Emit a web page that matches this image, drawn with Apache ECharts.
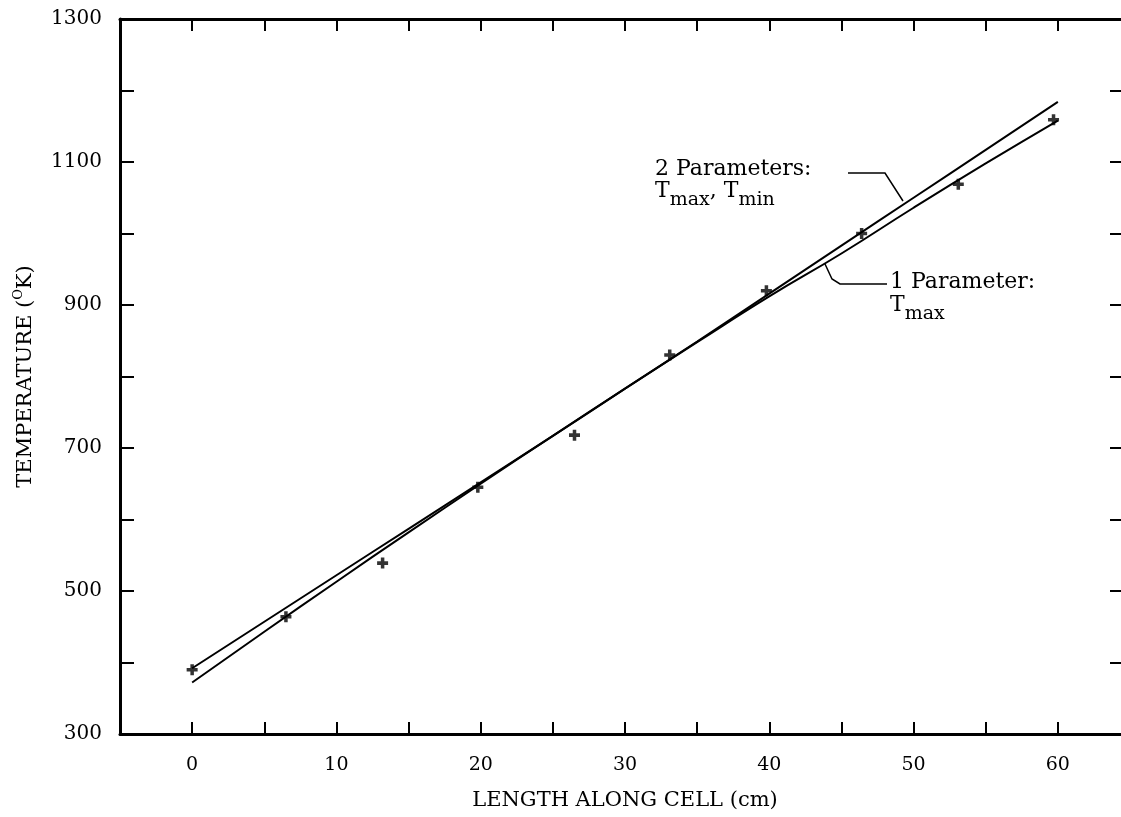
<!DOCTYPE html>
<html>
<head>
<meta charset="utf-8">
<script src="https://cdn.jsdelivr.net/npm/echarts@6/dist/echarts.min.js"></script>
<style>
  html, body { margin: 0; padding: 0; background: #fff; }
  #main { width: 1121px; height: 817px; }
</style>
</head>
<body>
<div id="main"></div>
<script>
// measured temperatures (+ marks)
const pointX = [0, 6.5, 13.2, 19.8, 26.5, 33.1, 39.8, 46.4, 53.1, 59.7]
const pointT = [390, 464, 539, 645, 718, 830, 920, 1000, 1069, 1159]

const curveX = [0, 5, 10, 15, 20, 25, 30, 35, 40, 45, 50, 55, 60]
const twoParamT = [392, 457, 522, 587, 652, 717, 783, 849, 916, 983, 1050, 1117, 1184]
const oneParamT = [372, 443, 513, 582, 650, 717, 783, 848, 912, 972, 1036, 1098, 1158]

// axis ranges / labels
const xMin = -5, xMax = 65, xStep = 5
const xLabels = [0, 10, 20, 30, 40, 50, 60]
const yMin = 300, yMax = 1300, yStep = 100
const yLabels = [300, 500, 700, 900, 1100, 1300]

const FONT = 'DejaVu Serif'
const axisLineStyle = { color: '#000', width: 3 }

const twoParamData = curveX.map((x, i) => [x, twoParamT[i]])
const oneParamData = curveX.map((x, i) => [x, oneParamT[i]])
const pointData = pointX.map((x, i) => [x, pointT[i]])

const plus = 'path://M3.4,0H6.6V3.4H10V6.6H6.6V10H3.4V6.6H0V3.4H3.4Z'

let option = {
  backgroundColor: '#fff',
  animation: false,
  grid: {
    left: 120,
    right: -9,
    top: 19,
    bottom: 83,
    outerBoundsMode: 'none',
    containLabel: false
  },
  xAxis: [
    {
      type: 'value',
      min: xMin,
      max: xMax,
      interval: xStep,
      name: 'LENGTH ALONG CELL (cm)',
      nameLocation: 'middle',
      nameGap: 56,
      nameTextStyle: { fontFamily: FONT, fontSize: 21, color: '#000' },
      axisLine: { onZero: false, lineStyle: axisLineStyle },
      axisTick: { inside: true, length: 12, lineStyle: { color: '#000', width: 2 } },
      axisLabel: {
        margin: 22,
        fontFamily: FONT,
        fontSize: 19,
        color: '#000',
        formatter: (v) => (xLabels.includes(v) ? String(v) : '')
      },
      splitLine: { show: false }
    },
    {
      type: 'value',
      position: 'top',
      min: xMin,
      max: xMax,
      interval: xStep,
      axisLine: { onZero: false, lineStyle: axisLineStyle },
      axisTick: { inside: true, length: 12, lineStyle: { color: '#000', width: 2 } },
      axisLabel: { show: false },
      splitLine: { show: false }
    }
  ],
  yAxis: [
    {
      type: 'value',
      min: yMin,
      max: yMax,
      interval: yStep,
      name: '{n|TEMPERATURE (}{s|O}{n|K)}',
      nameLocation: 'middle',
      nameRotate: 90,
      nameGap: 84,
      nameTextStyle: {
        fontFamily: FONT,
        fontSize: 21,
        color: '#000',
        rich: {
          n: { fontFamily: FONT, fontSize: 21, color: '#000', lineHeight: 24, verticalAlign: 'bottom' },
          s: { fontFamily: FONT, fontSize: 13, color: '#000', lineHeight: 13, verticalAlign: 'top' }
        }
      },
      axisLine: { onZero: false, lineStyle: axisLineStyle },
      axisTick: { inside: true, length: 14, lineStyle: { color: '#000', width: 2 } },
      axisLabel: {
        margin: 18,
        fontFamily: FONT,
        fontSize: 20,
        color: '#000',
        formatter: (v) => (yLabels.includes(v) ? String(v) : '')
      },
      splitLine: { show: false }
    },
    {
      type: 'value',
      position: 'right',
      min: yMin,
      max: yMax,
      interval: yStep,
      axisLine: { onZero: false, lineStyle: axisLineStyle },
      axisTick: { inside: true, length: 20, lineStyle: { color: '#000', width: 2 } },
      axisLabel: { show: false },
      splitLine: { show: false }
    }
  ],
  series: [
    {
      name: '2 Parameters',
      type: 'line',
      data: twoParamData,
      smooth: true,
      showSymbol: false,
      lineStyle: { color: '#000', width: 2 }
    },
    {
      name: '1 Parameter',
      type: 'line',
      data: oneParamData,
      smooth: true,
      showSymbol: false,
      lineStyle: { color: '#000', width: 2 }
    },
    {
      name: 'measured',
      type: 'scatter',
      data: pointData,
      symbol: plus,
      symbolSize: 11,
      itemStyle: { color: '#000' },
      z: 5
    }
  ],
  graphic: [
    // 2 parameters label + leader
    {
      type: 'text',
      style: { x: 655, y: 169, text: '2 Parameters:', font: '22px "DejaVu Serif"', fill: '#000', verticalAlign: 'middle' }
    },
    {
      type: 'text',
      style: {
        x: 655,
        y: 180,
        verticalAlign: 'top',
        text: '{t|T}{s|max}{t|, T}{s|min}',
        rich: {
          t: { fontFamily: FONT, fontSize: 22, lineHeight: 30, verticalAlign: 'top', color: '#000' },
          s: { fontFamily: FONT, fontSize: 19, lineHeight: 11, verticalAlign: 'bottom', color: '#000' }
        }
      }
    },
    {
      type: 'polyline',
      shape: { points: [[848, 173], [885, 173], [903, 201]] },
      style: { stroke: '#000', lineWidth: 1.5, fill: null }
    },
    // 1 parameter label + leader
    {
      type: 'text',
      style: { x: 890, y: 282, text: '1 Parameter:', font: '22px "DejaVu Serif"', fill: '#000', verticalAlign: 'middle' }
    },
    {
      type: 'text',
      style: {
        x: 890,
        y: 294,
        verticalAlign: 'top',
        text: '{t|T}{s|max}',
        rich: {
          t: { fontFamily: FONT, fontSize: 22, lineHeight: 30, verticalAlign: 'top', color: '#000' },
          s: { fontFamily: FONT, fontSize: 19, lineHeight: 11, verticalAlign: 'bottom', color: '#000' }
        }
      }
    },
    {
      type: 'polyline',
      shape: { points: [[825, 264], [832, 279], [840, 284], [887, 284]] },
      style: { stroke: '#000', lineWidth: 1.5, fill: null }
    }
  ]
}

const myChart = echarts.init(document.getElementById('main'))
myChart.setOption(option)
</script>
</body>
</html>
